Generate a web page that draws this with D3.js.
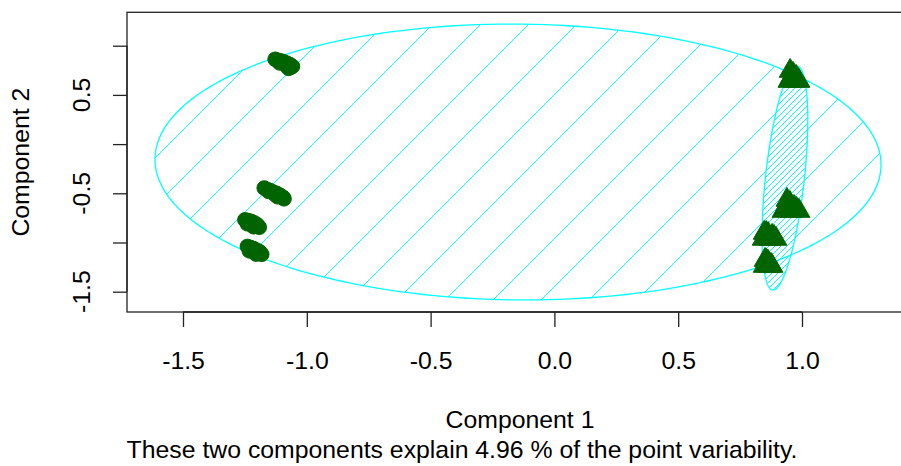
<!DOCTYPE html>
<html>
<head>
<meta charset="utf-8">
<script src="https://cdn.jsdelivr.net/npm/d3@7"></script>
<style>
body{margin:0;background:#fff;}
text{font-family:"Liberation Sans",Arial,sans-serif;fill:#000;}
</style>
</head>
<body>
<script>
// component scores, cluster 1 (circles)
var comp1_c1 = [-1.128,-1.116,-1.104,-1.092,-1.080,-1.068,-1.058,-1.066,-1.084,-1.110,-1.074,
                -1.172,-1.160,-1.148,-1.136,-1.122,-1.108,-1.096,-1.092,-1.130,-1.155,-1.118,
                -1.250,-1.238,-1.225,-1.212,-1.200,-1.192,-1.215,-1.240,
                -1.240,-1.228,-1.215,-1.202,-1.190,-1.182,-1.205,-1.232];
var comp2_c1 = [0.862,0.852,0.845,0.835,0.822,0.808,0.790,0.778,0.800,0.825,0.770,
                -0.446,-0.462,-0.472,-0.487,-0.500,-0.520,-0.540,-0.556,-0.510,-0.480,-0.535,
                -0.770,-0.776,-0.785,-0.800,-0.820,-0.845,-0.840,-0.810,
                -1.040,-1.050,-1.062,-1.078,-1.095,-1.120,-1.118,-1.085];
// cluster 2 (triangles)
var comp1_c2 = [0.952,0.964,0.976,0.988,0.947,0.968,0.956,0.982,
                0.939,0.951,0.968,0.988,0.923,0.956,0.935,0.978,
                0.847,0.863,0.879,0.895,0.843,0.870,0.855,0.887,
                0.851,0.863,0.875,0.847,0.867,0.879,0.857];
var comp2_c2 = [0.743,0.713,0.682,0.641,0.641,0.641,0.682,0.660,
                -0.568,-0.599,-0.639,-0.680,-0.680,-0.680,-0.629,-0.660,
                -0.903,-0.913,-0.934,-0.964,-0.964,-0.964,-0.905,-0.944,
                -1.178,-1.198,-1.229,-1.239,-1.239,-1.239,-1.188];

// cluster ellipses: centre and two conjugate half diameters
var ell_cx = [-0.147, 0.931];
var ell_cy = [-0.182, -0.345];
var ell_ux = [-0.028, 0.048];
var ell_uy = [1.402, 1.138];
var ell_vx = [1.466, 0.079];
var ell_vy = [0, 0];

var xTicks = [-1.5,-1.0,-0.5,0.0,0.5,1.0];
var yTicks = [1.0,0.5,0.0,-0.5,-1.0,-1.5];
var yLabelTicks = [0.5,-0.5,-1.5];
var varExplained = 4.96;

var width = 901, height = 466;
var plot = {left:127, top:12.3, right:905, bottom:312};
var fontSize = "24.8px";

var svg = d3.select("body").append("svg")
    .attr("width", width)
    .attr("height", height);

var x = d3.scaleLinear().domain([-1.5, 1.0]).range([183, 802]);
var y = d3.scaleLinear().domain([1.0, -1.5]).range([45.7, 291.7]);

var cyan = "#00ffff", green = "#006400";

// ellipse outline as polygon
function ellipsePts(i) {
    return d3.range(0, 201).map(function(k) {
        var t = k / 200 * 2 * Math.PI;
        return [x(ell_cx[i] + ell_ux[i]*Math.sin(t) + ell_vx[i]*Math.cos(t)),
                y(ell_cy[i] + ell_uy[i]*Math.sin(t) + ell_vy[i]*Math.cos(t))];
    });
}
var line = d3.line();
var defs = svg.append("defs");

// hatch spacing for each ellipse (px along x), phase
var hatchStep = [48, 6];
var hatchPhase = [409, 1];

[0, 1].forEach(function(i) {
    var pts = ellipsePts(i);
    defs.append("clipPath").attr("id", "clip" + i)
        .append("path").attr("d", line(pts) + "Z");
    var g = svg.append("g").attr("clip-path", "url(#clip" + i + ")");
    var ext = d3.extent(pts, function(p){ return p[0] + p[1]; });
    var k0 = Math.floor((ext[0] - hatchPhase[i]) / hatchStep[i]);
    var k1 = Math.ceil((ext[1] - hatchPhase[i]) / hatchStep[i]);
    for (var k = k0; k <= k1; k++) {
        var c = hatchPhase[i] + k * hatchStep[i];
        g.append("line")
            .attr("x1", c + 50).attr("y1", -50)
            .attr("x2", c - 500).attr("y2", 500)
            .attr("stroke", cyan).attr("stroke-width", 1)
            .attr("shape-rendering", "crispEdges");
    }
    svg.append("path")
        .attr("d", line(pts) + "Z")
        .attr("fill", "none")
        .attr("stroke", cyan)
        .attr("stroke-width", 1.3);
});

// points
svg.append("g").selectAll("circle")
    .data(d3.range(comp1_c1.length))
    .enter().append("circle")
    .attr("cx", function(i){ return x(comp1_c1[i]); })
    .attr("cy", function(i){ return y(comp2_c1[i]); })
    .attr("r", 7.3)
    .attr("fill", green)
    .attr("stroke", green)
    .attr("stroke-width", 1);

var tri = d3.symbol().type(d3.symbolTriangle).size(205);
svg.append("g").selectAll("path")
    .data(d3.range(comp1_c2.length))
    .enter().append("path")
    .attr("d", tri)
    .attr("transform", function(i){ return "translate(" + x(comp1_c2[i]) + "," + y(comp2_c2[i]) + ")"; })
    .attr("fill", green)
    .attr("stroke", green)
    .attr("stroke-width", 1);

// box
svg.append("rect")
    .attr("x", plot.left).attr("y", plot.top)
    .attr("width", plot.right - plot.left)
    .attr("height", plot.bottom - plot.top)
    .attr("fill", "none")
    .attr("stroke", "#222")
    .attr("stroke-width", 1.3);

// x axis
var xAxis = svg.append("g").attr("transform", "translate(0," + plot.bottom + ")")
    .call(d3.axisBottom(x).tickValues(xTicks).tickSize(15).tickPadding(24)
        .tickFormat(d3.format(".1f")));
xAxis.select(".domain").attr("d", "M" + x(-1.5) + ",0H" + x(1.0)).attr("stroke", "#222").attr("stroke-width", 1.3);
xAxis.selectAll(".tick line").attr("stroke", "#222").attr("stroke-width", 1.3);
xAxis.selectAll(".tick text")
    .attr("dy", null).attr("y", 57)
    .style("font-size", fontSize)
    .style("font-family", "'Liberation Sans', Arial, sans-serif")
    .attr("fill", "#000")
    .text(function(d){ return d3.format(".1f")(d).replace("−", "-"); });

// y axis
var yAxis = svg.append("g").attr("transform", "translate(" + plot.left + ",0)")
    .call(d3.axisLeft(y).tickValues(yTicks).tickSize(14).tickFormat(""));
yAxis.select(".domain").attr("d", "M0," + y(1.0) + "V" + y(-1.5)).attr("stroke", "#222").attr("stroke-width", 1.3);
yAxis.selectAll(".tick line").attr("stroke", "#222").attr("stroke-width", 1.3);

svg.append("g").selectAll("text")
    .data(yLabelTicks)
    .enter().append("text")
    .attr("transform", function(d){ return "translate(90," + y(d) + ") rotate(-90)"; })
    .attr("text-anchor", "middle")
    .style("font-size", fontSize)
    .text(function(d){ return d3.format(".1f")(d).replace("−", "-"); });

// axis titles
svg.append("text")
    .attr("transform", "translate(29," + ((plot.top + plot.bottom) / 2) + ") rotate(-90)")
    .attr("text-anchor", "middle")
    .style("font-size", fontSize)
    .text("Component 2");

svg.append("text")
    .attr("x", 520).attr("y", 428)
    .attr("text-anchor", "middle")
    .style("font-size", fontSize)
    .text("Component 1");

svg.append("text")
    .attr("x", 462).attr("y", 458)
    .attr("text-anchor", "middle")
    .style("font-size", fontSize)
    .text("These two components explain " + varExplained + " % of the point variability.");
</script>
</body>
</html>
